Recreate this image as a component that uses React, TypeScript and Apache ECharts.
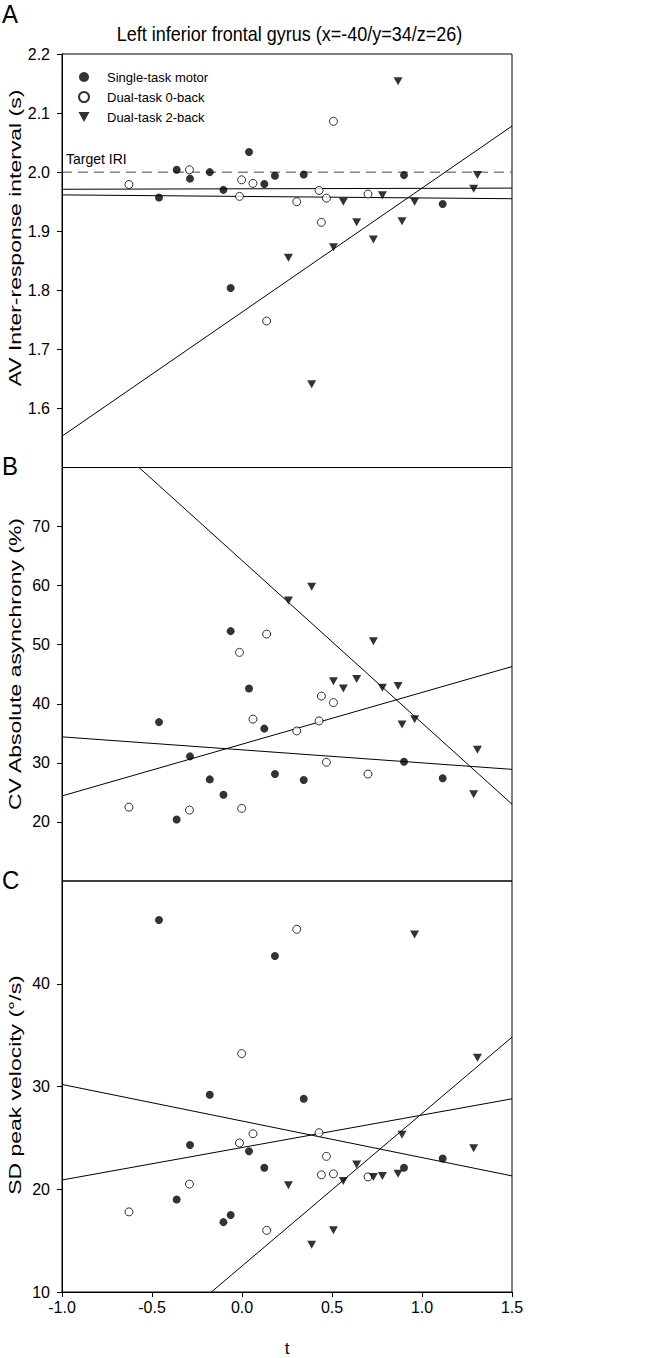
import React, { useEffect, useRef } from "react";
import * as echarts from "echarts";

// ---- data (t values per subject, per condition) ----
const tMotor = [-0.461, -0.363, -0.289, -0.179, -0.103, -0.063, 0.039, 0.124, 0.183, 0.343, 0.9, 1.115];
const avMotor = [1.957, 2.004, 1.989, 2.0, 1.97, 1.804, 2.034, 1.98, 1.994, 1.996, 1.995, 1.946];
const cvMotor = [36.9, 20.4, 31.1, 27.2, 24.6, 52.3, 42.6, 35.8, 28.1, 27.1, 30.2, 27.4];
const sdMotor = [46.2, 19.0, 24.3, 29.2, 16.8, 17.5, 23.7, 22.1, 42.7, 28.8, 22.1, 23.0];

const t0back = [-0.628, -0.292, -0.014, -0.002, 0.061, 0.137, 0.304, 0.428, 0.441, 0.469, 0.508, 0.7];
const av0back = [1.979, 2.004, 1.959, 1.987, 1.981, 1.748, 1.95, 1.969, 1.915, 1.956, 2.086, 1.963];
const cv0back = [22.5, 22.0, 48.7, 22.3, 37.4, 51.8, 35.4, 37.1, 41.3, 30.1, 40.2, 28.1];
const sd0back = [17.8, 20.5, 24.5, 33.2, 25.4, 16.0, 45.3, 25.5, 21.4, 23.2, 21.5, 21.2];

const t2back = [0.258, 0.387, 0.508, 0.563, 0.637, 0.73, 0.78, 0.867, 0.889, 0.959, 1.287, 1.308];
const av2back = [1.855, 1.641, 1.873, 1.95, 1.915, 1.886, 1.961, 2.154, 1.917, 1.95, 1.972, 1.995];
const cv2back = [57.5, 59.8, 43.8, 42.6, 44.2, 50.6, 42.7, 43.0, 36.5, 37.4, 24.7, 32.2];
const sd2back = [20.4, 14.6, 16.0, 20.8, 22.4, 21.2, 21.3, 21.5, 25.3, 44.8, 24.0, 32.8];

// regression line endpoints [t, value]
const fitAMotor = [[-1, 1.9615], [1.5, 1.955]];
const fitA0back = [[-1, 1.971], [1.5, 1.973]];
const fitA2back = [[-1, 1.553], [1.5, 2.078]];
const fitBMotor = [[-1, 34.4], [1.5, 28.9]];
const fitB0back = [[-1, 24.4], [1.5, 46.3]];
const fitB2back = [[-0.572, 80], [1.5, 23.0]];
const fitCMotor = [[-1, 30.2], [1.5, 21.3]];
const fitC0back = [[-1, 20.9], [1.5, 28.8]];
const fitC2back = [[-0.17, 10], [1.5, 34.8]];
const targetIRI = [[-1, 2.0], [1.5, 2.0]];

const seriesNames = ["Single-task motor", "Dual-task 0-back", "Dual-task 2-back"];
const panelLetters = ["A", "B", "C"];
const yTitles = ["AV Inter-response interval (s)", "CV Absolute asynchrony (%)", "SD peak velocity (°/s)"];

const FONT = "'Liberation Sans', Arial, sans-serif";
const TRI = "path://M0,0L10,0L5,9Z";

const zip = (xs: number[], ys: number[]) => xs.map((x, i) => [x, ys[i]]);

export default function App() {
  const ref = useRef<HTMLDivElement>(null);
  useEffect(() => {
    document.body.style.margin = "0";
    const chart = echarts.init(ref.current!, undefined, { renderer: "svg" });

    const grids = [
      { left: 62, right: 155, top: 54, height: 413.5 },
      { left: 62, right: 155, top: 467.5, height: 413.5 },
      { left: 62, right: 155, top: 881, height: 413 },
    ].map((g) => ({ ...g, show: true, borderColor: "#000", borderWidth: 1, backgroundColor: "transparent" }));

    const baseX = { type: "value", min: -1, max: 1.5, interval: 0.5, splitLine: { show: false } };
    const xAxes = [
      { ...baseX, gridIndex: 0, show: false },
      { ...baseX, gridIndex: 1, show: false },
      {
        ...baseX,
        gridIndex: 2,
        axisLine: { onZero: false, lineStyle: { color: "#000", width: 1 } },
        axisTick: { length: 5, lineStyle: { color: "#000" } },
        axisLabel: { color: "#000", fontSize: 16, fontFamily: FONT, margin: 7, formatter: (v: number) => v.toFixed(1) },
        name: "t",
        nameLocation: "middle",
        nameGap: 48,
        nameTextStyle: { color: "#000", fontSize: 17, fontFamily: FONT },
      },
    ];

    const yCommon = {
      type: "value",
      splitLine: { show: false },
      axisLine: { show: true, onZero: false, lineStyle: { color: "#000", width: 1 } },
      axisTick: { show: true, length: 5, lineStyle: { color: "#000" } },
    };
    const lbl = (dec: number, extra: any) => ({
      color: "#000",
      fontSize: 16,
      fontFamily: FONT,
      margin: 12,
      formatter: (v: number) => v.toFixed(dec),
      ...extra,
    });
    const yAxes = [
      { ...yCommon, gridIndex: 0, min: 1.5, max: 2.2, interval: 0.1, axisLabel: lbl(1, { showMinLabel: false }) },
      { ...yCommon, gridIndex: 1, min: 10, max: 80, interval: 10, axisLabel: lbl(0, { showMinLabel: false, showMaxLabel: false }) },
      { ...yCommon, gridIndex: 2, min: 10, max: 50, interval: 10, axisLabel: lbl(0, { showMaxLabel: false }) },
    ];

    const fitLine = (data: number[][], gi: number, extra: any = {}) => ({
      type: "line",
      xAxisIndex: gi,
      yAxisIndex: gi,
      data,
      symbol: "none",
      silent: true,
      z: 2,
      lineStyle: { color: "#000", width: 1, ...extra },
    });

    const scatter = (name: string, data: number[][], gi: number) => {
      const base: any = { type: "scatter", name, data, xAxisIndex: gi, yAxisIndex: gi, z: 5, silent: true };
      if (name === seriesNames[0]) {
        base.symbol = "circle";
        base.symbolSize = 8;
        base.itemStyle = { color: "#000" };
      } else if (name === seriesNames[1]) {
        base.symbol = "circle";
        base.symbolSize = 8;
        base.itemStyle = { color: "#fff", borderColor: "#000", borderWidth: 1 };
      } else {
        base.symbol = TRI;
        base.symbolSize = [9, 8];
        base.itemStyle = { color: "#000" };
      }
      return base;
    };

    const series: any[] = [
      fitLine(targetIRI, 0, { type: [10, 6], color: "#444" }),
      fitLine(fitAMotor, 0),
      fitLine(fitA0back, 0),
      fitLine(fitA2back, 0),
      fitLine(fitBMotor, 1),
      fitLine(fitB0back, 1),
      fitLine(fitB2back, 1),
      fitLine(fitCMotor, 2),
      fitLine(fitC0back, 2),
      fitLine(fitC2back, 2),
      scatter(seriesNames[0], zip(tMotor, avMotor), 0),
      scatter(seriesNames[1], zip(t0back, av0back), 0),
      scatter(seriesNames[2], zip(t2back, av2back), 0),
      scatter(seriesNames[0], zip(tMotor, cvMotor), 1),
      scatter(seriesNames[1], zip(t0back, cv0back), 1),
      scatter(seriesNames[2], zip(t2back, cv2back), 1),
      scatter(seriesNames[0], zip(tMotor, sdMotor), 2),
      scatter(seriesNames[1], zip(t0back, sd0back), 2),
      scatter(seriesNames[2], zip(t2back, sd2back), 2),
    ];

    const letterY = [14, 466, 880];
    const titleY = [238, 664, 1085];
    const graphics: any[] = [];
    panelLetters.forEach((L, i) => {
      graphics.push({
        type: "text",
        x: 2,
        y: letterY[i],
        scaleY: 1.05,
        style: {
          text: L,
          font: `24px ${FONT}`,
          fill: "#000",
          align: "left",
          verticalAlign: "middle",
          textAlign: "left",
          textVerticalAlign: "middle",
        },
      });
    });
    yTitles.forEach((T, i) => {
      graphics.push({
        type: "text",
        x: 15,
        y: titleY[i],
        rotation: Math.PI / 2,
        scaleX: 1.35,
        style: {
          text: T,
          font: `17px ${FONT}`,
          fill: "#000",
          align: "center",
          verticalAlign: "middle",
          textAlign: "center",
          textVerticalAlign: "middle",
        },
      });
    });
    graphics.push({
      type: "text",
      x: 289.5,
      y: 34,
      scaleY: 1.08,
      style: {
        text: "Left inferior frontal gyrus (x=-40/y=34/z=26)",
        font: `18px ${FONT}`,
        fill: "#000",
        align: "center",
        verticalAlign: "middle",
        textAlign: "center",
        textVerticalAlign: "middle",
      },
    });
    graphics.push({
      type: "text",
      x: 66,
      y: 159,
      scaleY: 1.08,
      style: {
        text: "Target IRI",
        font: `14px ${FONT}`,
        fill: "#000",
        align: "left",
        verticalAlign: "middle",
        textAlign: "left",
        textVerticalAlign: "middle",
      },
    });

    chart.setOption({
      animation: false,
      backgroundColor: "#fff",
      textStyle: { fontFamily: FONT },
      grid: grids,
      xAxis: xAxes,
      yAxis: yAxes,
      legend: {
        data: seriesNames,
        orient: "vertical",
        left: 78,
        top: 70,
        itemWidth: 36,
        itemHeight: 10,
        itemGap: 6,
        padding: 0,
        selectedMode: false,
        textStyle: { color: "#000", fontSize: 13, fontFamily: FONT, lineHeight: 14 },
      },
      graphic: graphics,
      series,
    });
    return () => chart.dispose();
  }, []);
  return <div ref={ref} style={{ width: 667, height: 1358 }} />;
}
